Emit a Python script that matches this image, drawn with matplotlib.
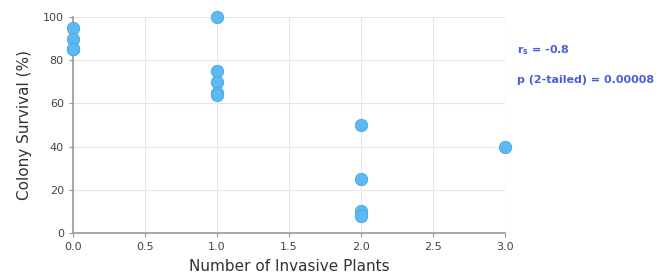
import matplotlib.pyplot as plt

plants = [0, 0, 0, 0, 1, 1, 1, 1, 1, 2, 2, 2, 2, 3]
survival = [95, 90, 85, 85, 100, 75, 70, 65, 64, 50, 25, 10, 8, 40]
xticks = [0.0, 0.5, 1.0, 1.5, 2.0, 2.5, 3.0]
yticks = [0, 20, 40, 60, 80, 100]

fig = plt.figure(figsize=(6.62, 2.79), dpi=100)
ax = fig.add_axes([0.110, 0.165, 0.653, 0.774])

ax.scatter(plants, survival, s=80, color='#5cb9f2', edgecolor='#4aa6e0',
           linewidth=0.6, zorder=3, clip_on=False)

ax.set_xlim(0, 3)
ax.set_ylim(0, 100)
ax.set_xticks(xticks)
ax.set_yticks(yticks)
ax.set_xticklabels([f"{t:.1f}" for t in xticks])
ax.grid(True, color='#e6e6e6', linewidth=0.8)
ax.set_axisbelow(True)
for s in ['top', 'right']:
    ax.spines[s].set_visible(False)
for s in ['left', 'bottom']:
    ax.spines[s].set_color('#999999')
    ax.spines[s].set_linewidth(1.2)
ax.tick_params(colors='#999999', labelcolor='#444444', labelsize=8, length=3)

ax.set_xlabel("Number of Invasive Plants", fontsize=11, color='#333333', labelpad=5)
ax.set_ylabel("Colony Survival (%)", fontsize=11, color='#333333', labelpad=8)

fig.text(0.781, 0.82, r"r$_\mathregular{s}$ = -0.8", color='#4a5ed8', fontsize=8,
         fontweight='bold', va='center')
fig.text(0.781, 0.712, "p (2-tailed) = 0.00008", color='#4a5ed8', fontsize=8,
         fontweight='bold', va='center')

fig.savefig("out.png", dpi=100)
